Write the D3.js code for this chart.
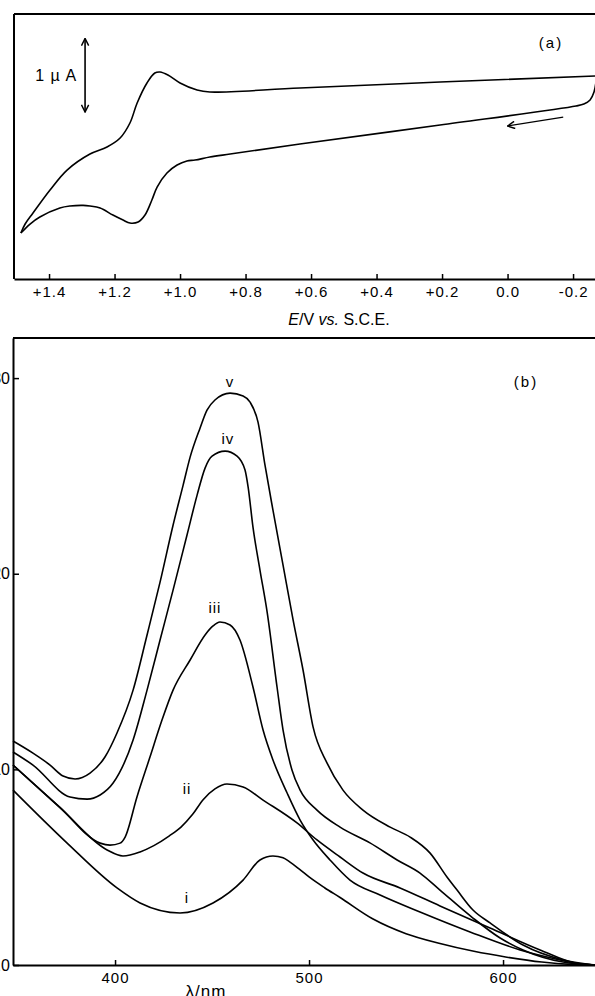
<!DOCTYPE html>
<html>
<head>
<meta charset="utf-8">
<script src="https://cdn.jsdelivr.net/npm/d3@7"></script>
<style>
  body { margin: 0; background: #fff; }
  svg { display: block; }
  .frame, .domain { stroke: #000; stroke-width: 2; fill: none; }
  .tick line { stroke: #000; stroke-width: 1.5; }
  .curve { fill: none; stroke: #000; stroke-width: 1.6; stroke-linejoin: round; }
  text { font-family: "Liberation Sans", Arial, sans-serif; fill: #000; }
</style>
</head>
<body>
<div id="chart"></div>
<script>
//------------------------------------------------------------------
// (a) voltametria ciclica
//------------------------------------------------------------------
var cvTicks = [1.4, 1.2, 1.0, 0.8, 0.6, 0.4, 0.2, 0.0, -0.2];
var cvTickLabels = ["+1.4", "+1.2", "+1.0", "+0.8", "+0.6", "+0.4", "+0.2", "0.0", "-0.2"];

// barrido de ida (rama inferior, de derecha a izquierda)
var cvLowE = [-0.270, -0.264, -0.252, -0.233, -0.209, 0.206, 0.634, 0.847, 0.909, 0.954, 0.979, 1.009, 1.040, 1.070, 1.086, 1.107, 1.128, 1.153, 1.174, 1.205, 1.244, 1.275, 1.296, 1.336, 1.367, 1.428, 1.458, 1.486];
var cvLowI = [1.076, 0.940, 0.832, 0.777, 0.750, 0.492, 0.234, 0.098, 0.057, 0.016, 0.003, -0.052, -0.160, -0.351, -0.527, -0.731, -0.826, -0.840, -0.799, -0.731, -0.636, -0.609, -0.600, -0.609, -0.636, -0.758, -0.853, -0.976];

// barrido de vuelta (rama superior)
var cvUpE = [1.486, 1.473, 1.449, 1.397, 1.345, 1.275, 1.223, 1.183, 1.153, 1.131, 1.101, 1.077, 1.061, 1.037, 1.000, 0.948, 0.909, 0.634, 0.206, -0.267];
var cvUpI = [-0.976, -0.853, -0.704, -0.391, -0.120, 0.098, 0.193, 0.315, 0.519, 0.791, 1.063, 1.198, 1.212, 1.171, 1.063, 0.967, 0.940, 0.995, 1.076, 1.158];

// flecha de barrido y escala de 1 uA
var scanArrowE = [-0.17, 0.0];
var scanArrowI = [0.60, 0.478];
var scaleBarE = 1.29;
var scaleBarI = [0.668, 1.668];

//------------------------------------------------------------------
// (b) espectros
//------------------------------------------------------------------
var spTicks = [400, 500, 600];
var spYTicks = [0, 10, 20, 30];
var spYTickLabels = ["0.0", "10", "20", "30"];

var nmI = [347.4, 375.3, 401.0, 412.9, 433.5, 450.5, 466.0, 474.7, 481.4, 486.6, 490.2, 495.0, 500.0, 508.0, 516.0, 533.0, 550.0, 567.5, 585.0, 602.0, 620.0, 635.0, 647.4];
var absI = [8.94, 6.23, 3.94, 3.17, 2.66, 3.17, 4.34, 5.37, 5.57, 5.48, 5.26, 4.90, 4.50, 3.95, 3.45, 2.35, 1.60, 1.10, 0.70, 0.40, 0.15, 0.03, 0];

var nmII = [347.4, 371.6, 395.9, 404.1, 412.9, 420.0, 428.0, 434.0, 440.0, 445.4, 451.5, 457.7, 466.0, 476.3, 493.8, 504.1, 516.0, 527.8, 546.9, 567.5, 593.3, 619.1, 637.1, 647.4];
var absII = [10.22, 8.04, 5.88, 5.57, 5.78, 6.10, 6.60, 7.05, 7.70, 8.45, 9.00, 9.25, 9.10, 8.43, 7.26, 6.39, 5.52, 4.70, 3.94, 3.02, 1.89, 0.77, 0.10, 0];

var nmIII = [347.4, 371.6, 392.3, 397.4, 402.6, 405.2, 411.3, 418.0, 424.2, 429.9, 438.7, 446.4, 450.5, 454.1, 459.3, 464.4, 471.1, 476.3, 481.4, 488.7, 495.4, 502.1, 510.8, 521.1, 536.6, 557.2, 583.0, 608.8, 629.4, 639.7, 647.4];
var absIII = [10.22, 8.06, 6.23, 6.13, 6.23, 6.54, 8.59, 10.63, 12.52, 14.05, 15.59, 16.87, 17.33, 17.53, 17.38, 16.61, 14.21, 12.01, 10.48, 8.79, 7.41, 6.39, 5.37, 4.34, 3.58, 2.71, 1.69, 0.77, 0.26, 0.05, 0];

var nmIV = [347.4, 357.7, 376.8, 385.6, 392.3, 399.0, 409.3, 416.5, 423.2, 429.9, 437.1, 442.3, 446.4, 450.0, 456.7, 462.9, 467.0, 468.6, 471.1, 474.7, 478.4, 483.5, 486.6, 491.2, 495.4, 504.1, 516.0, 531.4, 545.4, 557.2, 567.5, 584.5, 598.5, 610.3, 630.9, 647.4];
var absIV = [10.89, 10.22, 8.59, 8.48, 8.69, 9.30, 11.50, 14.05, 16.61, 19.16, 21.98, 24.02, 25.40, 26.01, 26.27, 26.01, 25.30, 24.43, 22.38, 20.19, 18.04, 14.21, 12.01, 9.97, 8.94, 7.92, 7.05, 6.24, 5.37, 4.70, 3.83, 2.40, 1.38, 0.77, 0.15, 0];

var nmV = [347.4, 357.7, 366.5, 373.2, 379.4, 387.1, 394.8, 401.0, 409.3, 416.5, 423.2, 429.9, 435.1, 438.7, 443.8, 447.4, 451.5, 459.3, 466.0, 469.6, 473.7, 477.3, 481.4, 486.6, 491.8, 496.9, 502.1, 509.3, 517.5, 527.8, 541.8, 552.1, 562.4, 571.1, 576.3, 584.5, 593.3, 610.3, 630.9, 647.4];
var absV = [11.45, 10.83, 10.22, 9.66, 9.51, 9.81, 10.63, 11.86, 14.05, 16.87, 19.57, 22.48, 24.53, 25.96, 27.44, 28.36, 28.88, 29.23, 29.08, 28.77, 27.75, 25.55, 23.25, 20.44, 17.63, 15.08, 12.16, 10.32, 8.94, 7.92, 7.05, 6.54, 5.72, 4.50, 3.83, 2.81, 2.15, 1.02, 0.26, 0];

// etiquetas de las curvas (posicion en unidades de datos)
var curveNames = ["i", "ii", "iii", "iv", "v"];
var curveLabelNm = [437.1, 437.1, 451.5, 458.2, 459.3];
var curveLabelAbs = [3.42, 9.0, 18.25, 26.9, 29.8];


// Dimensiones
var width = 595, height = 996;

var svg = d3.select("#chart")
  .append("svg")
    .attr("width", width)
    .attr("height", height);

svg.append("rect").attr("width", width).attr("height", height).attr("fill", "#fff");

// puntas de flecha
var defs = svg.append("defs");
defs.append("marker")
    .attr("id", "head")
    .attr("viewBox", "0 0 10 10")
    .attr("refX", 9).attr("refY", 5)
    .attr("markerWidth", 9).attr("markerHeight", 9)
    .attr("markerUnits", "userSpaceOnUse")
    .attr("orient", "auto-start-reverse")
  .append("path")
    .attr("d", "M1,1 L9,5 L1,9")
    .attr("fill", "none")
    .attr("stroke", "#000")
    .attr("stroke-width", 1.6);

//----------------------------- panel (a)
var cvX = d3.scaleLinear().domain([1.507, -0.267]).range([14, 595]);
var cvY = d3.scaleLinear().domain([-1.6, 2.0]).range([279, 14]);

var cvLine = d3.line()
    .x(function(d) { return cvX(d[0]); })
    .y(function(d) { return cvY(d[1]); })
    .curve(d3.curveCatmullRom.alpha(0.5));

svg.append("path").attr("class", "curve")
    .attr("d", cvLine(d3.zip(cvLowE, cvLowI)));
svg.append("path").attr("class", "curve")
    .attr("d", cvLine(d3.zip(cvUpE, cvUpI)));

// marco
svg.append("line").attr("class", "frame")
    .attr("x1", cvX.range()[0]).attr("x2", width)
    .attr("y1", cvY.range()[1]).attr("y2", cvY.range()[1]);
svg.append("line").attr("class", "frame")
    .attr("x1", cvX.range()[0]).attr("x2", cvX.range()[0])
    .attr("y1", cvY.range()[1]).attr("y2", cvY.range()[0]);

var cvAxis = d3.axisBottom(cvX)
    .tickValues(cvTicks)
    .tickFormat(function(d, i) { return cvTickLabels[i]; })
    .tickSizeInner(-5)
    .tickSizeOuter(0)
    .tickPadding(7);

svg.append("g")
    .attr("transform", "translate(0," + cvY.range()[0] + ")")
    .call(cvAxis)
    .selectAll("text")
      .style("font-size", "15px")
      .style("letter-spacing", "1px");

// titulo eje x
var cvTitle = svg.append("text")
    .attr("x", 339).attr("y", 325)
    .attr("text-anchor", "middle")
    .style("font-size", "16px");
cvTitle.append("tspan").style("font-style", "italic").text("E");
cvTitle.append("tspan").text("/V ");
cvTitle.append("tspan").style("font-style", "italic").text("vs.");
cvTitle.append("tspan").text(" S.C.E.");

// escala 1 uA
svg.append("line")
    .attr("x1", cvX(scaleBarE)).attr("x2", cvX(scaleBarE))
    .attr("y1", cvY(scaleBarI[0])).attr("y2", cvY(scaleBarI[1]))
    .attr("stroke", "#000").attr("stroke-width", 1.6)
    .attr("marker-start", "url(#head)")
    .attr("marker-end", "url(#head)");
svg.append("text")
    .attr("x", cvX(scaleBarE) - 8)
    .attr("y", cvY(d3.mean(scaleBarI)))
    .attr("dy", "0.35em")
    .attr("text-anchor", "end")
    .style("font-size", "16px")
    .style("letter-spacing", "1px")
    .text("1 \u00b5 A");

// flecha del barrido
svg.append("line")
    .attr("x1", cvX(scanArrowE[0])).attr("y1", cvY(scanArrowI[0]))
    .attr("x2", cvX(scanArrowE[1])).attr("y2", cvY(scanArrowI[1]))
    .attr("stroke", "#000").attr("stroke-width", 1.3)
    .attr("marker-end", "url(#head)");

svg.append("text")
    .attr("x", 551).attr("y", 43)
    .attr("dy", "0.35em")
    .attr("text-anchor", "middle")
    .style("font-size", "15px")
    .style("letter-spacing", "2px")
    .text("(a)");

//----------------------------- panel (b)
var spX = d3.scaleLinear().domain([347.4, 647.4]).range([13, 595]);
var spY = d3.scaleLinear().domain([0, 32.05]).range([965, 338]);

var spLine = d3.line()
    .x(function(d) { return spX(d[0]); })
    .y(function(d) { return spY(d[1]); })
    .curve(d3.curveMonotoneX);

var spectra = [
  d3.zip(nmI, absI),
  d3.zip(nmII, absII),
  d3.zip(nmIII, absIII),
  d3.zip(nmIV, absIV),
  d3.zip(nmV, absV)
];

svg.selectAll(".spec")
    .data(spectra)
  .enter().append("path")
    .attr("class", "curve spec")
    .attr("d", function(d) { return spLine(d); });

svg.append("line").attr("class", "frame")
    .attr("x1", spX.range()[0]).attr("x2", width)
    .attr("y1", spY.range()[1]).attr("y2", spY.range()[1]);

var spXAxis = d3.axisBottom(spX)
    .tickValues(spTicks)
    .tickSizeInner(-5)
    .tickSizeOuter(0)
    .tickPadding(7);

svg.append("g")
    .attr("transform", "translate(0," + spY.range()[0] + ")")
    .call(spXAxis)
    .selectAll("text")
      .style("font-size", "15px")
      .style("letter-spacing", "1px");

var spYAxis = d3.axisLeft(spY)
    .tickValues(spYTicks)
    .tickFormat(function(d, i) { return spYTickLabels[i]; })
    .tickSizeInner(-6)
    .tickSizeOuter(0)
    .tickPadding(3);

svg.append("g")
    .attr("transform", "translate(" + spX.range()[0] + ",0)")
    .call(spYAxis)
    .selectAll("text")
      .style("font-size", "16px");

svg.append("text")
    .attr("x", 206).attr("y", 997)
    .attr("text-anchor", "middle")
    .style("font-size", "17px")
    .style("letter-spacing", "1px")
    .text("\u03bb/nm");

svg.append("text")
    .attr("x", 526).attr("y", 382)
    .attr("dy", "0.35em")
    .attr("text-anchor", "middle")
    .style("font-size", "15px")
    .style("letter-spacing", "2px")
    .text("(b)");

// etiquetas de curvas
svg.selectAll(".clabel")
    .data(curveNames)
  .enter().append("text")
    .attr("class", "clabel")
    .attr("x", function(d, i) { return spX(curveLabelNm[i]); })
    .attr("y", function(d, i) { return spY(curveLabelAbs[i]); })
    .attr("dy", "0.35em")
    .attr("text-anchor", "middle")
    .style("font-size", "15px")
    .style("letter-spacing", "1px")
    .text(function(d) { return d; });
</script>
</body>
</html>
